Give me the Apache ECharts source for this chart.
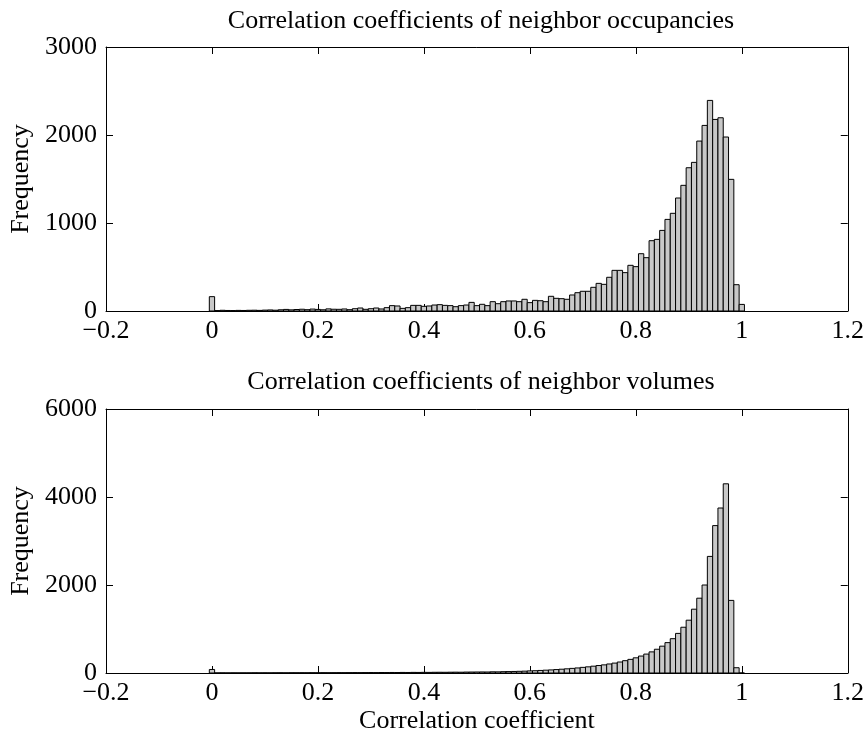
<!DOCTYPE html>
<html>
<head>
<meta charset="utf-8">
<script src="https://cdn.jsdelivr.net/npm/echarts@6/dist/echarts.min.js"></script>
<style>
html, body { margin: 0; padding: 0; background: #fff; }
#chart { width: 867px; height: 740px; }
</style>
</head>
<body>
<div id="chart"></div>
<script>
// 直方图数据 (bin centres 0, 0.01, ... 1.00)
var binWidth = 0.01;

var occupancyCounts = [
    163,
    5, 8, 6, 5, 7, 6, 8, 9, 7,
    10, 12, 9, 14, 18, 13, 17, 20, 15, 22,
    18, 14, 24, 20, 19, 23, 15, 26, 34, 19,
    26, 34, 23, 38, 61, 57, 30, 38, 64, 64,
    53, 57, 68, 72, 64, 61, 49, 61, 68, 98,
    61, 76, 61, 106, 83, 106, 114, 114, 106, 133,
    95, 121, 117, 106, 167, 144, 140, 133, 182, 208,
    224, 224, 269, 314, 303, 383, 462, 462, 436, 519,
    504, 651, 606, 799, 814, 916, 1041, 1110, 1284, 1428,
    1628, 1689, 1931, 2109, 2393, 2177, 2196, 1977, 1496, 299,
    75
];

var volumeCounts = [
    80,
    2, 3, 2, 3, 2, 3, 3, 4, 3,
    4, 3, 4, 5, 4, 5, 5, 6, 5, 6,
    6, 7, 6, 7, 8, 7, 8, 9, 8, 9,
    10, 9, 11, 10, 12, 11, 13, 12, 14, 13,
    15, 14, 16, 17, 16, 18, 19, 18, 21, 22,
    23, 24, 23, 27, 26, 30, 32, 35, 38, 42,
    48, 52, 58, 64, 70, 78, 86, 95, 105, 115,
    128, 140, 155, 170, 185, 205, 225, 250, 280, 310,
    345, 385, 430, 480, 540, 610, 690, 780, 900, 1040,
    1200, 1450, 1700, 2000, 2650, 3350, 3750, 4300, 1650, 120,
    0
];

var titles = ['Correlation coefficients of neighbor occupancies', 'Correlation coefficients of neighbor volumes'];
var yMax = [3000, 6000];
var yStep = [1000, 2000];

var FONT = 'Liberation Serif, Times New Roman, serif';
var FS = 26;

function toPairs(counts) {
    return counts.map(function (n, i) { return [i * binWidth, n]; });
}

function renderBin(params, api) {
    var c = api.value(0), n = api.value(1);
    var p0 = api.coord([c - binWidth / 2, n]);
    var p1 = api.coord([c + binWidth / 2, 0]);
    return {
        type: 'rect',
        shape: { x: p0[0], y: p0[1], width: p1[0] - p0[0], height: p1[1] - p0[1] },
        style: { fill: '#c8c8c8', stroke: '#000', lineWidth: 1 }
    };
}

function fmtX(v) {
    var s = String(Math.abs(parseFloat(v.toFixed(1))));
    return v < 0 ? '\u2212' + s : s;
}

function fmtY(v) {
    return String(v);
}

var lineStyle = { color: '#000', width: 1 };

function xAx(grid, pos, showLabel, name) {
    return {
        type: 'value', gridIndex: grid, position: pos,
        min: -0.2, max: 1.2, interval: 0.2,
        axisLine: { show: true, onZero: false, lineStyle: lineStyle },
        axisTick: { show: true, inside: true, length: 7, lineStyle: lineStyle },
        axisLabel: { show: showLabel, formatter: fmtX, color: '#000', fontFamily: FONT, fontSize: FS, margin: 7 },
        splitLine: { show: false },
        name: name || '', nameLocation: 'middle', nameGap: 35,
        nameTextStyle: { color: '#000', fontFamily: FONT, fontSize: FS }
    };
}

function yAx(grid, pos, showLabel, name) {
    return {
        type: 'value', gridIndex: grid, position: pos,
        min: 0, max: yMax[grid], interval: yStep[grid],
        axisLine: { show: true, onZero: false, lineStyle: lineStyle },
        axisTick: { show: true, inside: true, length: 7, lineStyle: lineStyle },
        axisLabel: { show: showLabel, formatter: fmtY, color: '#000', fontFamily: FONT, fontSize: FS, margin: 9 },
        splitLine: { show: false },
        name: name || '', nameLocation: 'middle', nameGap: 72,
        nameTextStyle: { color: '#000', fontFamily: FONT, fontSize: FS }
    };
}

var chart = echarts.init(document.getElementById('chart'));
var option = {
    backgroundColor: '#fff',
    animation: false,
    title: [
        { text: titles[0], left: 476, top: 3, textAlign: 'center',
          textStyle: { color: '#000', fontFamily: FONT, fontSize: FS, fontWeight: 'normal' } },
        { text: titles[1], left: 476, top: 364, textAlign: 'center',
          textStyle: { color: '#000', fontFamily: FONT, fontSize: FS, fontWeight: 'normal' } }
    ],
    grid: [
        { left: 104, width: 745, top: 47, height: 264 },
        { left: 104, width: 745, top: 409, height: 264 }
    ],
    xAxis: [
        xAx(0, 'bottom', true), xAx(0, 'top', false),
        xAx(1, 'bottom', true, 'Correlation coefficient'), xAx(1, 'top', false)
    ],
    yAxis: [
        yAx(0, 'left', true, 'Frequency'), yAx(0, 'right', false),
        yAx(1, 'left', true, 'Frequency'), yAx(1, 'right', false)
    ],
    series: [
        { type: 'custom', xAxisIndex: 0, yAxisIndex: 0, renderItem: renderBin, data: toPairs(occupancyCounts) },
        { type: 'custom', xAxisIndex: 2, yAxisIndex: 2, renderItem: renderBin, data: toPairs(volumeCounts) }
    ]
};
chart.setOption(option);
</script>
</body>
</html>
